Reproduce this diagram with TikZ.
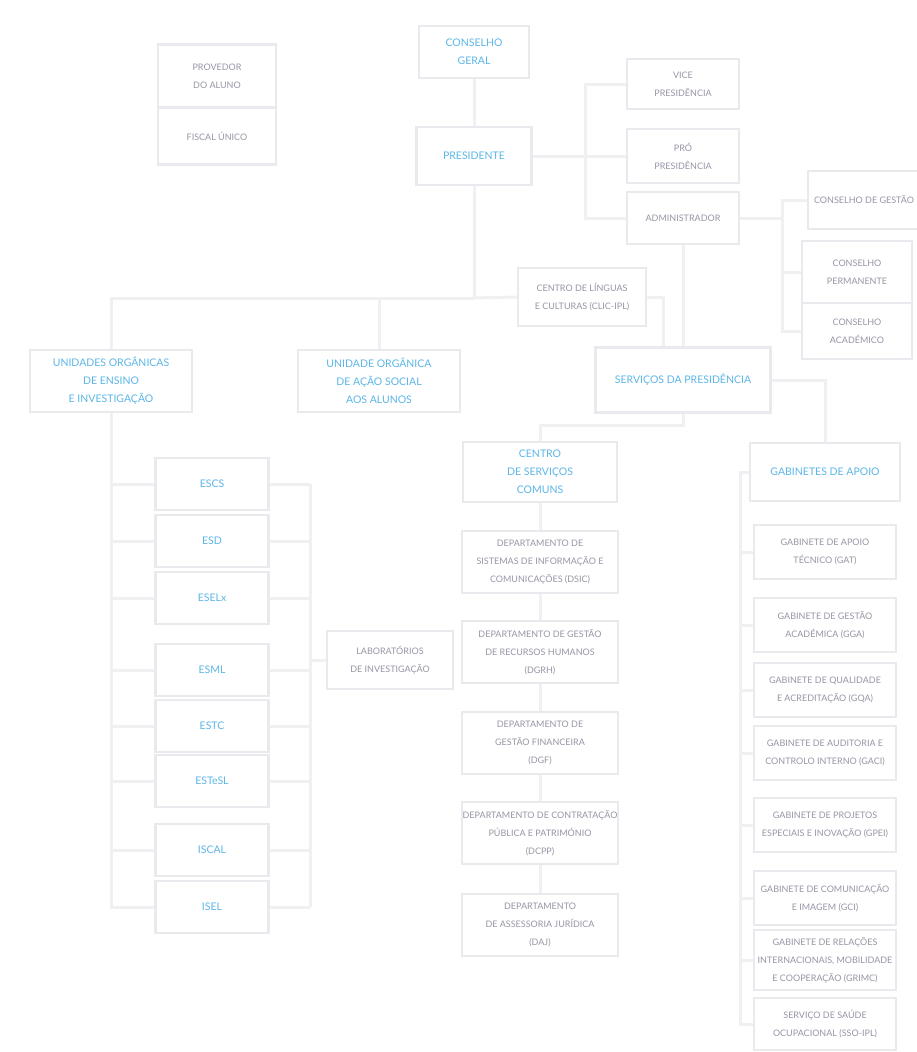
\documentclass[tikz,border=0pt]{standalone}
\usepackage{fontspec}
\setmainfont{Lato}
\usetikzlibrary{positioning,calc}
\definecolor{head-color}{RGB}{92,182,232}
\definecolor{item-color}{RGB}{150,150,166}
\definecolor{edge-color}{RGB}{233,233,238}
\definecolor{link-color}{RGB}{240,240,243}
\tikzset{
  unit/.style={draw=edge-color, line width=2.5pt, fill=white, align=center,
    inner sep=0pt},
  head/.style={unit, text=head-color, font=\fontsize{10.5}{18}\selectfont},
  item/.style={unit, text=item-color, font=\fontsize{9}{18}\selectfont},
  boxsize/.style 2 args={minimum width=#1, minimum height=#2},
  link/.style={draw=link-color, line width=3pt}
}
\begin{document}
\begin{tikzpicture}[x=1pt, y=-1pt]
  \useasboundingbox (0,0) rectangle (916,1052);
  \node[item, boxsize={118pt}{63pt}] (prov) at (217,76) {PROVEDOR\\DO ALUNO};
  \node[item, boxsize={118pt}{57pt}] (fisc) at (217,136) {FISCAL ÚNICO};
  \node[head, boxsize={110pt}{52pt}] (cg) at (474,52) {CONSELHO\\GERAL};
  \node[head, boxsize={115pt}{58pt}] (pres) at (474,156) {PRESIDENTE};
  \node[item, boxsize={112pt}{50pt}] (vice) at (683,84) {VICE\\PRESIDÊNCIA};
  \node[item, boxsize={112pt}{54pt}] (pro) at (683,156) {PRÓ\\PRESIDÊNCIA};
  \node[item, boxsize={112pt}{52pt}] (admin) at (683,218) {ADMINISTRADOR};
  \node[item, boxsize={112pt}{58pt}] (cgest) at (864,200) {CONSELHO DE GESTÃO};
  \node[item, boxsize={110pt}{62pt}] (cperm) at (857,272) {CONSELHO\\PERMANENTE};
  \node[item, boxsize={110pt}{56pt}] (cacad) at (857,331) {CONSELHO\\ACADÉMICO};
  \node[item, boxsize={128pt}{58pt}] (clic) at (582,297) {CENTRO DE LÍNGUAS\\E CULTURAS (CLIC-IPL)};
  \node[head, boxsize={175pt}{65pt}] (serv) at (683,380) {SERVIÇOS DA PRESIDÊNCIA};
  \node[head, boxsize={162pt}{62pt}] (uoe) at (111,381) {UNIDADES ORGÂNICAS\\DE ENSINO\\E INVESTIGAÇÃO};
  \node[head, boxsize={162pt}{62pt}] (uoas) at (379,381) {UNIDADE ORGÂNICA\\DE AÇÃO SOCIAL\\AOS ALUNOS};
  \foreach \name/\y in {ESCS/484, ESD/541, ESELx/598, ESML/670, ESTC/726, ESTeSL/781, ISCAL/850, ISEL/907}
    \node[head, boxsize={113pt}{52pt}] (\name) at (212,\y) {\name};
  \node[item, boxsize={126pt}{58pt}] (labs) at (390,660) {LABORATÓRIOS\\DE INVESTIGAÇÃO};
  \node[head, boxsize={154pt}{60pt}] (csc) at (540,472) {CENTRO\\DE SERVIÇOS\\COMUNS};
  \node[item, boxsize={156pt}{62pt}] (dsic) at (540,562) {DEPARTAMENTO DE\\SISTEMAS DE INFORMAÇÃO E\\COMUNICAÇÕES (DSIC)};
  \node[item, boxsize={156pt}{62pt}] (dgrh) at (540,652) {DEPARTAMENTO DE GESTÃO\\DE RECURSOS HUMANOS\\(DGRH)};
  \node[item, boxsize={156pt}{62pt}] (dgf) at (540,743) {DEPARTAMENTO DE\\GESTÃO FINANCEIRA\\(DGF)};
  \node[item, boxsize={156pt}{62pt}] (dcpp) at (540,833) {DEPARTAMENTO DE CONTRATAÇÃO\\PÚBLICA E PATRIMÓNIO\\(DCPP)};
  \node[item, boxsize={156pt}{62pt}] (daj) at (540,925) {DEPARTAMENTO\\DE ASSESSORIA JURÍDICA\\(DAJ)};
  \node[head, boxsize={150pt}{58pt}] (gab) at (825,472) {GABINETES DE APOIO};
  \node[item, boxsize={142pt}{54pt}] (gat) at (825,552) {GABINETE DE APOIO\\TÉCNICO (GAT)};
  \node[item, boxsize={142pt}{54pt}] (gga) at (825,625) {GABINETE DE GESTÃO\\ACADÉMICA (GGA)};
  \node[item, boxsize={142pt}{54pt}] (gqa) at (825,690) {GABINETE DE QUALIDADE\\E ACREDITAÇÃO (GQA)};
  \node[item, boxsize={142pt}{54pt}] (gaci) at (825,753) {GABINETE DE AUDITORIA E\\CONTROLO INTERNO (GACI)};
  \node[item, boxsize={142pt}{54pt}] (gpei) at (825,825) {GABINETE DE PROJETOS\\ESPECIAIS E INOVAÇÃO (GPEI)};
  \node[item, boxsize={142pt}{54pt}] (gci) at (825,898) {GABINETE DE COMUNICAÇÃO\\E IMAGEM (GCI)};
  \node[item, boxsize={142pt}{60pt}] (grimc) at (825,960) {GABINETE DE RELAÇÕES\\INTERNACIONAIS, MOBILIDADE\\E COOPERAÇÃO (GRIMC)};
  \node[item, boxsize={142pt}{52pt}] (sso) at (825,1024) {SERVIÇO DE SAÚDE\\OCUPACIONAL (SSO-IPL)};

  \coordinate (hub) at (474,298);
  \coordinate (labbar) at (310,660);
  \coordinate (ctrunk) at (782,200);
  \draw[link] (cg) -- (pres);
  \draw[link] (pres) -- (hub);
  \draw[link] (hub) -| (uoe.north);
  \draw[link] (hub) -| (uoas.north);
  \draw[link] (hub) -- (clic.west);
  \draw[link] (clic.east) -| ([xshift=-20pt]serv.north);
  \draw[link] (pres) -- (pro);
  \draw[link] (vice.west) -- ++(-40,0) |- (admin.west);
  \draw[link] (admin) -- (serv);
  \draw[link] (admin.east) -| (ctrunk) -- (cgest.west);
  \draw[link] (ctrunk) |- (cperm.west);
  \draw[link] (ctrunk) |- (cacad.west);
  \foreach \name in {ESCS, ESD, ESELx, ESML, ESTC, ESTeSL, ISCAL, ISEL} {
    \draw[link] (uoe.south) |- (\name.west);
    \draw[link] (\name.east) -- (\name.east -| labbar);
  }
  \draw[link] (ESCS.east -| labbar) -- (ISEL.east -| labbar);
  \draw[link] (labbar) -- (labs.west);
  \draw[link] (serv.south) -- ++(0,12) -| (csc.north);
  \foreach \a/\b in {csc/dsic, dsic/dgrh, dgrh/dgf, dgf/dcpp, dcpp/daj}
    \draw[link] (\a) -- (\b);
  \draw[link] (serv.east) -| (gab.north);
  \draw[link] (gab.west) -- ++(-8,0) coordinate (gtrunk) |- (sso.west);
  \foreach \g in {gat, gga, gqa, gaci, gpei, gci, grimc}
    \draw[link] (gtrunk) |- (\g.west);
\end{tikzpicture}
\end{document}
